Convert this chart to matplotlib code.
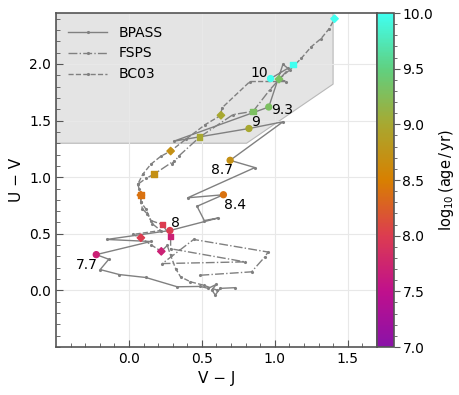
import numpy as np
import matplotlib
matplotlib.use("Agg")
import matplotlib.pyplot as plt
from matplotlib.colors import LinearSegmentedColormap
from matplotlib.patches import Polygon

# trilhas de cor (V-J, U-V)
bpass_vj = [0.728, 0.626, 0.592, 0.569, 0.599, 0.544, 0.49, 0.331, 0.116, -0.066, -0.197, -0.138,
            -0.224, 0.15, -0.152, 0.281, 0.614, 0.517, 0.467, 0.648, 0.403, 0.864, 0.694,
            1.056, 0.823, 0.308, 0.959, 1.056, 1.09, 0.971]
bpass_uv = [0.024, 0.018, -0.041, 0.003, 0.053, 0.018, 0.035, 0.032, 0.114, 0.14, 0.184, 0.275,
            0.316, 0.432, 0.45, 0.529, 0.64, 0.617, 0.743, 0.845, 0.818, 1.085, 1.149,
            1.489, 1.43, 1.318, 1.62, 1.997, 1.962, 1.871]

fsps_vj = [0.49, 0.841, 0.932, 0.954, 0.444, 0.229, 0.796, 0.286, 0.286, 0.229, 0.15, 0.127,
           0.093, 0.082, 0.082, 0.07, 0.063, 0.116, 0.172, 0.308, 0.297, 0.342, 0.485, 0.714,
           0.852, 0.966, 1.124]
fsps_uv = [0.134, 0.164, 0.296, 0.339, 0.45, 0.237, 0.252, 0.368, 0.476, 0.582, 0.617, 0.675,
           0.719, 0.778, 0.845, 0.895, 0.939, 0.989, 1.026, 1.143, 1.114, 1.187, 1.354, 1.553,
           1.582, 1.772, 1.997]

bc03_vj = [0.603, 0.512, 0.422, 0.354, 0.32, 0.286, 0.263, 0.222, 0.15, 0.082, 0.025, 0.218,
           0.161, 0.116, 0.082, 0.082, 0.061, 0.095, 0.15, 0.218, 0.286, 0.388, 0.524, 0.631,
           0.637, 0.83, 1.08, 1.029, 1.102, 1.182, 1.25, 1.318, 1.374, 1.41]
bc03_uv = [0.003, 0.046, 0.076, 0.12, 0.193, 0.31, 0.397, 0.345, 0.404, 0.465, 0.494, 0.529,
           0.588, 0.719, 0.781, 0.842, 0.939, 1.026, 1.114, 1.184, 1.231, 1.333, 1.465, 1.547,
           1.611, 1.845, 1.845, 1.866, 1.947, 2.05, 2.152, 2.225, 2.313, 2.4]

# idades marcadas
idades = [7.7, 8.0, 8.4, 8.7, 9.0, 9.3, 10.0]
rotulos = ["7.7", "8", "8.4", "8.7", "9", "9.3", "10"]

bpass_m_vj = [-0.224, 0.281, 0.648, 0.694, 0.823, 0.959, 0.971]
bpass_m_uv = [0.316, 0.529, 0.845, 1.149, 1.43, 1.62, 1.871]
fsps_m_vj = [0.286, 0.229, 0.082, 0.172, 0.485, 0.852, 1.124]
fsps_m_uv = [0.476, 0.582, 0.845, 1.026, 1.354, 1.582, 1.997]
bc03_m_vj = [0.222, 0.082, 0.082, 0.286, 0.631, 1.029, 1.41]
bc03_m_uv = [0.345, 0.465, 0.842, 1.231, 1.547, 1.866, 2.40]

# deslocamento dos rotulos (pixels)
desloc = [(-9, -10), (6, 8), (12, -10), (-8, -10), (7, 7), (13, -3), (-11, 6)]

cores = ["#8a12a8", "#c0108c", "#dc3c50", "#d88000", "#a8a830", "#60d080", "#40fff0"]
cmap = LinearSegmentedColormap.from_list("idade", cores)
norm = plt.Normalize(7.0, 10.0)

fig = plt.figure(figsize=(4.59, 3.95), dpi=100)
ax = fig.add_axes([0.122, 0.1215, 0.699, 0.8455])
cax = fig.add_axes([0.8215, 0.1215, 0.037, 0.8455])

# regiao quiescente
poly = Polygon([(-0.5, 1.3), (0.807, 1.3), (1.4, 1.822), (1.4, 3.0), (-0.5, 3.0)],
               closed=True, facecolor="#e4e4e4", edgecolor="#b8b8b8", lw=0.8, zorder=0)
ax.add_patch(poly)

cinza = "#808080"
ax.plot(bpass_vj, bpass_uv, "-", color=cinza, lw=1.0, marker=".", ms=2.5, label="BPASS", zorder=2)
ax.plot(fsps_vj, fsps_uv, "-.", color=cinza, lw=1.0, marker=".", ms=2.5, label="FSPS", zorder=2)
ax.plot(bc03_vj, bc03_uv, "--", color=cinza, lw=1.0, marker=".", ms=2.5, label="BC03", zorder=2)

ax.scatter(bpass_m_vj, bpass_m_uv, c=idades, cmap=cmap, norm=norm, marker="o", s=18, zorder=3)
ax.scatter(fsps_m_vj, fsps_m_uv, c=idades, cmap=cmap, norm=norm, marker="s", s=16, zorder=3)
ax.scatter(bc03_m_vj, bc03_m_uv, c=idades, cmap=cmap, norm=norm, marker="D", s=14, zorder=3)

for x, y, t, d in zip(bpass_m_vj, bpass_m_uv, rotulos, desloc):
    ax.annotate(t, (x, y), xytext=d, textcoords="offset pixels", ha="center", va="center", fontsize=10)

ax.set_xlim(-0.5, 1.7)
ax.set_ylim(-0.5, 2.45)
ax.set_xticks([0.0, 0.5, 1.0, 1.5])
ax.set_yticks([0.0, 0.5, 1.0, 1.5, 2.0])
ax.set_xticks(np.arange(-0.4, 1.71, 0.1), minor=True)
ax.set_yticks(np.arange(-0.5, 2.45, 0.1), minor=True)
ax.tick_params(which="both", direction="in", colors="#555555", labelcolor="black", labelsize=10)
ax.tick_params(which="major", length=5)
ax.tick_params(which="minor", length=3)
ax.grid(True, color="#e8e8e8", lw=0.8, zorder=0)
ax.set_axisbelow(True)
for s in ax.spines.values():
    s.set_color("#555555")
    s.set_linewidth(1.2)

ax.set_xlabel("V − J", fontsize=11)
ax.set_ylabel("U − V", fontsize=11)
ax.legend(loc="upper left", frameon=False, fontsize=10, handlelength=2.8)

sm = plt.cm.ScalarMappable(cmap=cmap, norm=norm)
cb = fig.colorbar(sm, cax=cax)
cb.set_ticks([7.0, 7.5, 8.0, 8.5, 9.0, 9.5, 10.0])
cb.ax.yaxis.set_minor_locator(matplotlib.ticker.MultipleLocator(0.1))
cb.ax.tick_params(which="both", colors="#555555", labelcolor="black", labelsize=10, pad=2)
cb.ax.tick_params(which="major", length=4)
cb.ax.tick_params(which="minor", length=2)
cb.outline.set_edgecolor("#555555")
cb.outline.set_linewidth(1.2)
cb.set_label(r"$\log_{10}(\mathrm{age\,/\,yr})$", fontsize=10.5, labelpad=3)

fig.savefig("out.png", dpi=100)
